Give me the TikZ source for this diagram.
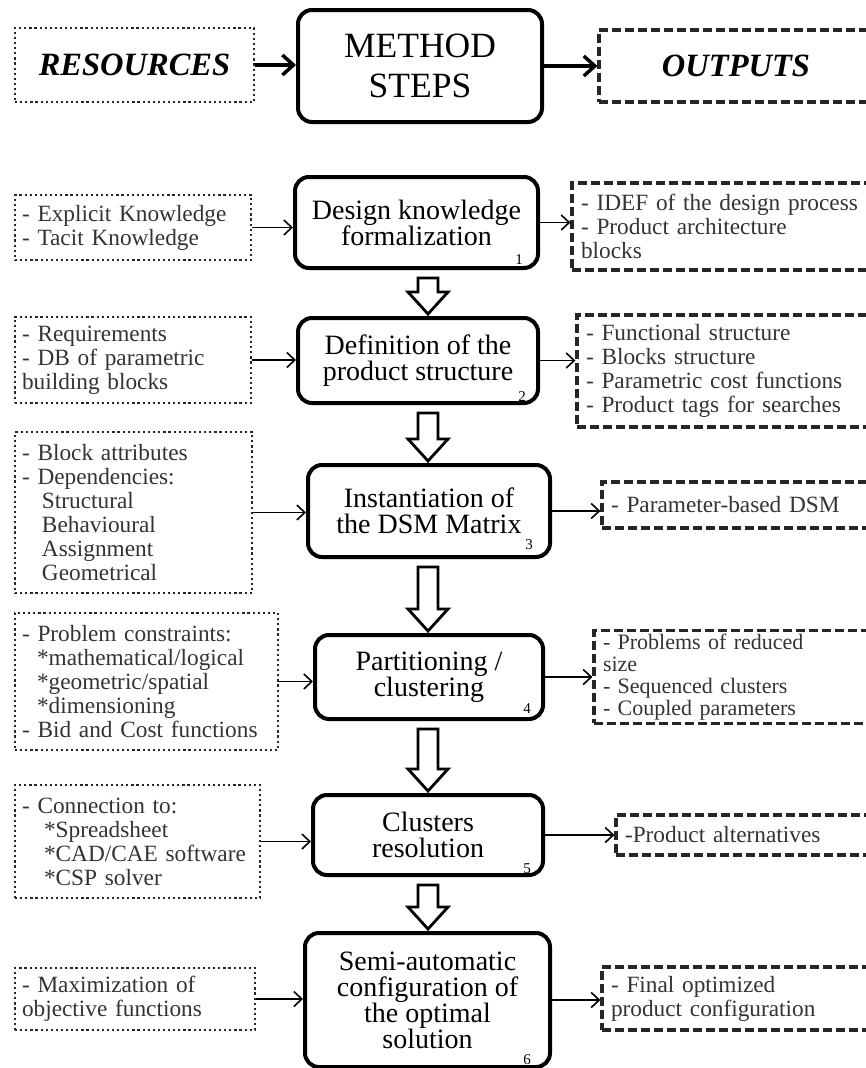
\documentclass[tikz,border=0pt]{standalone}
\usepackage{fontspec}
\setmainfont{Liberation Serif}
\usepackage{tikz}
\usetikzlibrary{arrows.meta,calc,positioning}

\hyphenpenalty=10000
\exhyphenpenalty=10000

\newcommand{\sidetxt}{\fontsize{23.3}{24}\selectfont}
\newcommand{\steptxt}{\fontsize{28}{26}\selectfont}
\newcommand{\methodtxt}{\fontsize{35.5}{40}\selectfont}
\newcommand{\headtxt}{\fontsize{32.5}{34}\selectfont\bfseries\itshape}
\newcommand{\numtxt}{\fontsize{15}{15}\selectfont}

\tikzstyle{stepbox} =[rectangle, draw=black, line width=4pt, rounded corners=14pt,
                      align=center, font=\steptxt, inner sep=3pt]
\tikzstyle{resbox}  =[rectangle, draw=black!85, line width=2.8pt,
                      dash pattern=on 2.2pt off 2.9pt, align=left, font=\sidetxt,
                      text=black!80, inner xsep=7pt]
\tikzstyle{outbox}  =[rectangle, draw=black!85, line width=3.2pt,
                      dash pattern=on 9pt off 4pt, align=left, font=\sidetxt,
                      text=black!80, inner xsep=9pt]
\tikzstyle{arr}     =[-{Straight Barb[length=8pt,width=15pt]}, line width=1.6pt]
\tikzstyle{headarr} =[-{Straight Barb[length=11pt,width=20pt]}, line width=3.5pt]
\tikzstyle{bigarr}  =[draw=black, line width=2.8pt, fill=white, line join=miter]
\tikzstyle{numlabel}=[font=\numtxt, inner sep=0pt, anchor=south east]

% open arrow between two steps
\newcommand{\stepflow}[2]{%
  \draw[bigarr] let \p1=(#1.south), \p2=(#2.north) in
    (418pt,\y1-8pt) -- (438pt,\y1-8pt) -- (438pt,\y2+24pt) -- (448pt,\y2+24pt)
    -- (428pt,\y2+2pt) -- (408pt,\y2+24pt) -- (418pt,\y2+24pt) -- cycle;}

\begin{document}
\begin{tikzpicture}[x=1pt,y=-1pt]

  \useasboundingbox (0,0) rectangle (866,1068);
  \clip (0,0) rectangle (866,1068);

  % ── header row ─────────────────────────────────────────────────────────────
  \node[resbox, font=\headtxt, text=black, align=center,
        minimum width=239pt, minimum height=74pt]  (resources) at (134.5,65) {RESOURCES};
  \node[stepbox, font=\methodtxt, minimum width=244pt,
        minimum height=112pt]                       (method)    at (420,66)    {METHOD\\STEPS};
  \node[outbox, font=\headtxt, text=black, align=center,
        minimum width=274pt, minimum height=72pt]   (outputs)   at (736,66)    {OUTPUTS};

  \draw[headarr] (resources.east) -- (resources.east -| method.west);
  \draw[headarr] (method.east)    -- (method.east -| outputs.west);

  % ── method steps (centre column) ──────────────────────────────────────────
  \node[stepbox, minimum width=243pt, minimum height=91pt]  (design)    at (416.5,222.5)
    {Design knowledge\\formalization};
  \node[stepbox, minimum width=240pt, minimum height=85pt]  (structure) at (418,360.5)
    {Definition of the\\product structure};
  \node[stepbox, minimum width=242pt, minimum height=92pt]  (dsm)       at (429,511)
    {Instantiation of\\the DSM Matrix};
  \node[stepbox, minimum width=228pt, minimum height=84pt]  (partition) at (429,677)
    {Partitioning /\\clustering};
  \node[stepbox, minimum width=230pt, minimum height=80pt]  (clusters)  at (428,835)
    {Clusters\\resolution};
  \node[stepbox, minimum width=245pt, minimum height=134pt] (config)    at (427.5,1000)
    {Semi-automatic\\configuration of\\the optimal\\solution};

  \node[numlabel] (n1) at ([xshift=-17pt,yshift=5pt]design.south east)    {1};
  \node[numlabel] (n2) at ([xshift=-14pt,yshift=3pt]structure.south east) {2};
  \node[numlabel] (n3) at ([xshift=-19pt,yshift=9pt]dsm.south east)       {3};
  \node[numlabel] (n4) at ([xshift=-14pt,yshift=7pt]partition.south east) {4};
  \node[numlabel] (n5) at ([xshift=-14pt,yshift=3pt]clusters.south east)  {5};
  \node[numlabel] (n6) at ([xshift=-21pt,yshift=4pt]config.south east)    {6};

  \stepflow{design}{structure}
  \stepflow{structure}{dsm}
  \stepflow{dsm}{partition}
  \stepflow{partition}{clusters}
  \stepflow{clusters}{config}

  % ── resources (left column) ───────────────────────────────────────────────
  \node[resbox, text width=222pt, minimum height=65pt]  (res1) at (133,227.5)
    {- Explicit Knowledge\\- Tacit Knowledge};
  \node[resbox, text width=222pt, minimum height=86pt]  (res2) at (133,360)
    {- Requirements\\- DB of parametric\\building blocks};
  \node[resbox, text width=223pt, minimum height=161pt] (res3) at (133.5,512.5)
    {- Block attributes\\- Dependencies:\\\hspace*{20pt}Structural\\\hspace*{20pt}Behavioural\\
     \hspace*{20pt}Assignment\\\hspace*{20pt}Geometrical};
  \node[resbox, text width=249pt, minimum height=137pt] (res4) at (146.5,681.5)
    {- Problem constraints:\\\hspace*{15pt}*mathematical/logical\\\hspace*{15pt}*geometric/spatial\\
     \hspace*{15pt}*dimensioning\\- Bid and Cost functions};
  \node[resbox, text width=231pt, minimum height=113pt] (res5) at (137.5,841.5)
    {- Connection to:\\\hspace*{22pt}*Spreadsheet\\\hspace*{22pt}*CAD/CAE software\\
     \hspace*{22pt}*CSP solver};
  \node[resbox, text width=226pt, minimum height=62pt]  (res6) at (135,999)
    {- Maximization of\\objective functions};

  % ── outputs (right column, cut by the page edge) ──────────────────────────
  \node[outbox, text width=310pt, minimum height=87pt]  (out1) at (736,226.5)
    {- IDEF of the design process\\- Product architecture\\blocks};
  \node[outbox, text width=305pt, minimum height=112pt] (out2) at (738.5,371)
    {- Functional structure\\- Blocks structure\\- Parametric cost functions\\- Product tags for searches};
  \node[outbox, text width=280pt, minimum height=46pt]  (out3) at (751,505)
    {- Parameter-based DSM};
  \node[outbox, text width=288pt, minimum height=86pt,
        font=\fontsize{22}{22}\selectfont]             (out4) at (747,677)
    {- Problems of reduced\\size\\- Sequenced clusters\\- Coupled parameters};
  \node[outbox, text width=266pt, minimum height=40pt]  (out5) at (758,835)
    {-Product alternatives};
  \node[outbox, text width=280pt, minimum height=63pt]  (out6) at (751,998.5)
    {- Final optimized\\product configuration};

  % ── inputs and results ────────────────────────────────────────────────────
  \draw[arr] (res1.east) -- (res1.east -| design.west);
  \draw[arr] (res2.east) -- (res2.east -| structure.west);
  \draw[arr] (res3.east) -- (res3.east -| dsm.west);
  \draw[arr] (res4.east) -- (res4.east -| partition.west);
  \draw[arr] (res5.east) -- (res5.east -| clusters.west);
  \draw[arr] (res6.east) -- (res6.east -| config.west);

  \draw[arr] (design.east)    -- (design.east -| out1.west);
  \draw[arr] (structure.east) -- (structure.east -| out2.west);
  \draw[arr] (dsm.east)       -- (dsm.east -| out3.west);
  \draw[arr] (partition.east) -- (partition.east -| out4.west);
  \draw[arr] (clusters.east)  -- (clusters.east -| out5.west);
  \draw[arr] (config.east)    -- (config.east -| out6.west);

\end{tikzpicture}
\end{document}
